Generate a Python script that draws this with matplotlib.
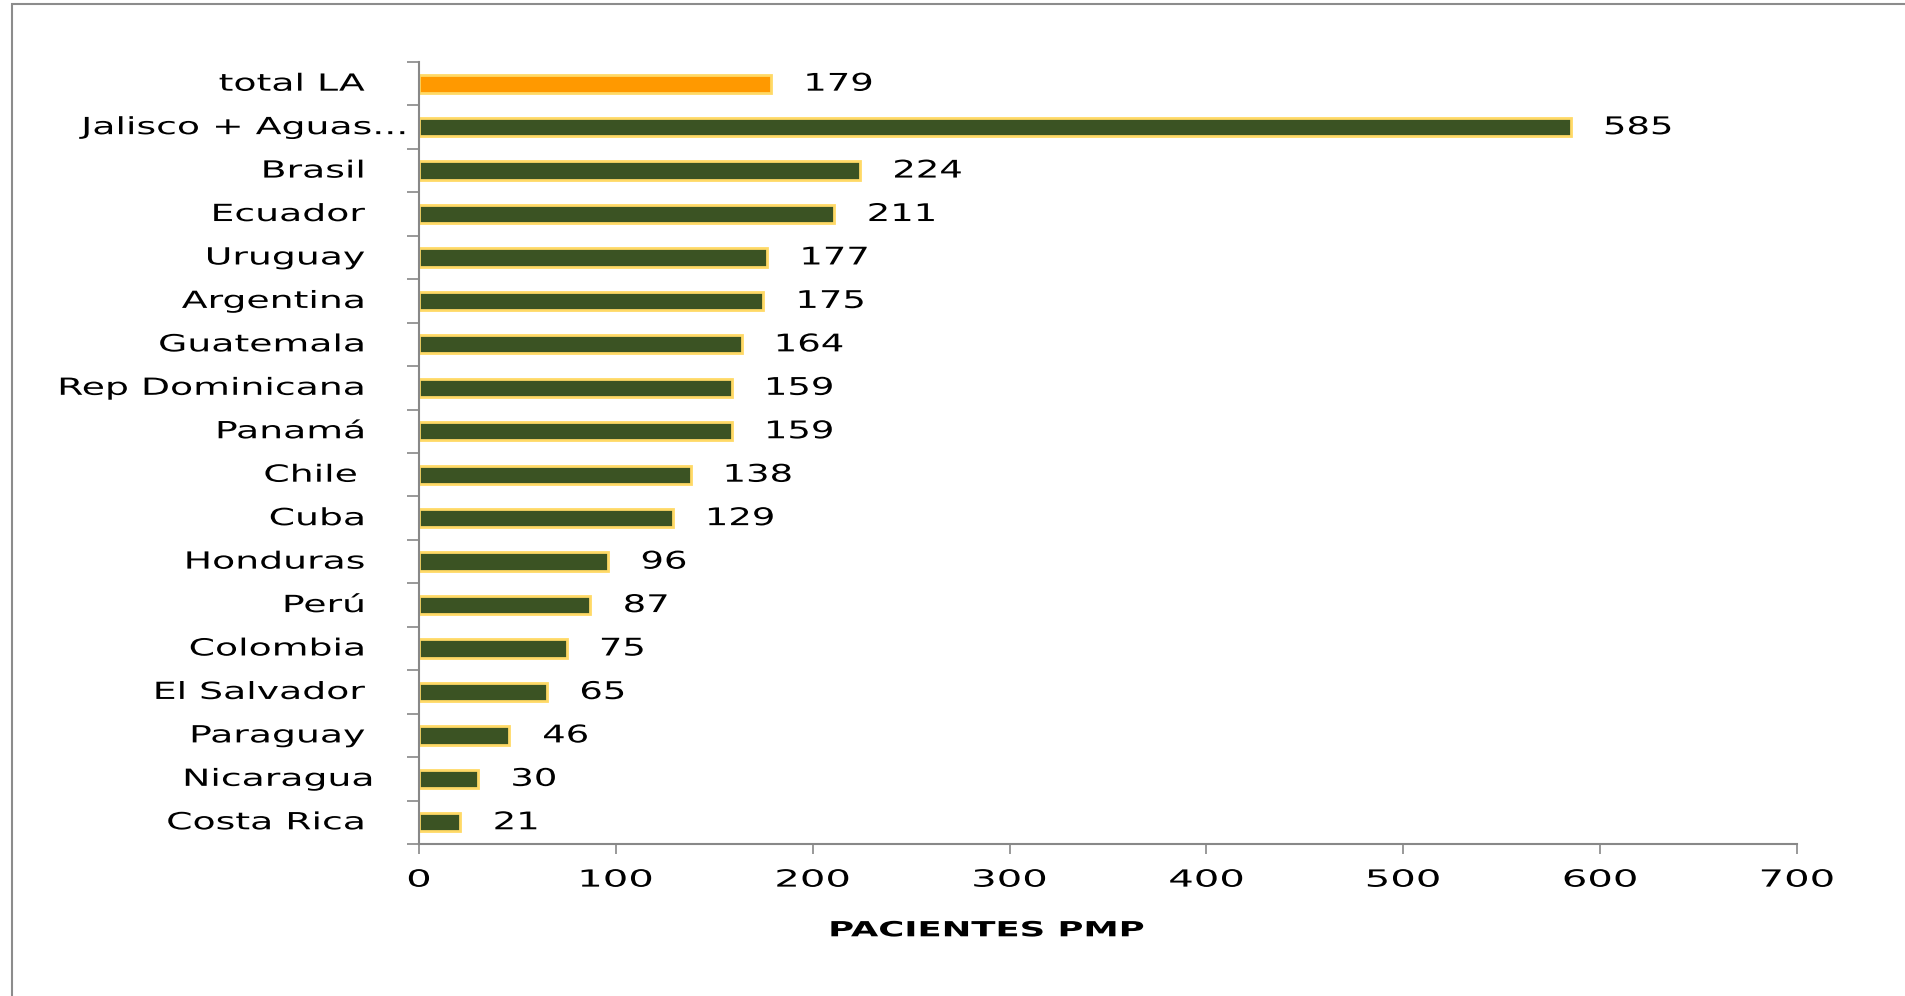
import matplotlib
matplotlib.use('Agg')
import matplotlib.pyplot as plt
from matplotlib.patches import Rectangle
from matplotlib.patheffects import AbstractPathEffect
from matplotlib.transforms import Affine2D

countries = ['total LA', 'Jalisco + Aguas...', 'Brasil', 'Ecuador', 'Uruguay',
             'Argentina', 'Guatemala', 'Rep Dominicana', 'Panamá', 'Chile ',
             'Cuba', 'Honduras', 'Perú', 'Colombia', 'El Salvador', 'Paraguay',
             'Nicaragua', 'Costa Rica']
values = [179, 585, 224, 211, 177, 175, 164, 159, 159, 138, 129, 96, 87, 75,
          65, 46, 30, 21]
xticks = [0, 100, 200, 300, 400, 500, 600, 700]

green = '#3B5323'
orange = '#FF9900'
edge = '#FFD966'
gray = '#888888'


class HStretch(AbstractPathEffect):
    # widen glyphs horizontally (the source chart has stretched text)
    def __init__(self, sx, anchor='center'):
        super().__init__()
        self.sx = sx
        self.anchor = anchor

    def draw_path(self, renderer, gc, tpath, affine, rgbFace=None):
        ext = tpath.get_extents()
        if self.anchor == 'right':
            cx = ext.x1
        elif self.anchor == 'left':
            cx = ext.x0
        else:
            cx = (ext.x0 + ext.x1) / 2
        t = Affine2D().translate(-cx, 0).scale(self.sx, 1).translate(cx, 0) + affine
        renderer.draw_path(gc, tpath, t, rgbFace)


plt.rcParams['font.family'] = 'DejaVu Sans'

fig = plt.figure(figsize=(19.06, 9.96), dpi=100)
ax = fig.add_axes([0.2198, 0.1526, 0.7230, 0.7852])

ypos = list(range(len(countries)))
colors = [orange] + [green] * (len(countries) - 1)
ax.barh(ypos, values, height=0.42, color=colors, edgecolor=edge, linewidth=2)

for y, v in zip(ypos, values):
    ax.annotate(str(v), (v, y), xytext=(24, 0), textcoords='offset points',
                ha='left', va='center', fontsize=17.5, color='black',
                path_effects=[HStretch(1.52, 'left')])

ax.set_ylim(len(countries) - 0.5, -0.5)
ax.set_xlim(0, 700)
ax.set_xticks(xticks)
ax.set_xticklabels([str(t) for t in xticks], fontsize=17)
for lab in ax.get_xticklabels():
    lab.set_path_effects([HStretch(1.7, 'center')])

# category labels, right aligned left of the axis (Excel style)
ax.set_yticks([])
ax.set_yticks([i - 0.5 for i in range(len(countries) + 1)], minor=True)
shift = {'Jalisco + Aguas...': 30, 'Nicaragua': 6}
for y, name in zip(ypos, countries):
    dx = shift.get(name, 0)
    ax.annotate(name, (0, y), xycoords=('axes fraction', 'data'),
                xytext=(-39 + dx, 0), textcoords='offset points',
                ha='right', va='center', fontsize=17,
                path_effects=[HStretch(1.6, 'right')])

ax.tick_params(axis='y', which='minor', length=9, width=1.2, color=gray,
               direction='out')
ax.tick_params(axis='x', which='major', length=7, width=1.2, color=gray,
               direction='out', pad=10)

for s in ['top', 'right']:
    ax.spines[s].set_visible(False)
for s in ['left', 'bottom']:
    ax.spines[s].set_color(gray)
    ax.spines[s].set_linewidth(1.5)

ax.set_xlabel('PACIENTES PMP', fontsize=15, fontweight='bold',
              path_effects=[HStretch(1.7, 'center')])
ax.xaxis.set_label_coords(0.412, -0.1180)
ax.xaxis.label.set_va('baseline')

# outer chart frame (cut off at right and bottom)
fig.add_artist(Rectangle((12 / 1906, -0.05), 1.1, 0.05 + 1 - 4 / 996,
                         transform=fig.transFigure, fill=False,
                         edgecolor='#8c8c8c', linewidth=1.5))

fig.savefig('out.png', dpi=100)
plt.close()
